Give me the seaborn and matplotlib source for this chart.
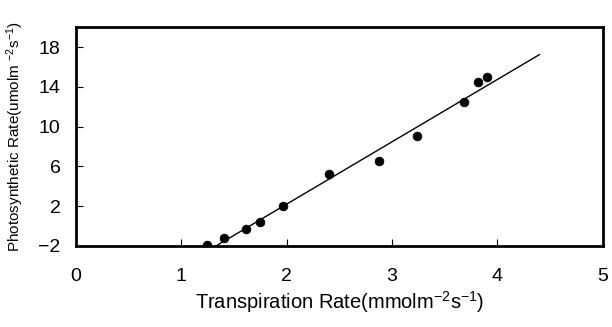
import numpy as np
import pandas as pd
import seaborn as sns
import matplotlib.pyplot as plt

# values
transpiration = [1.24, 1.41, 1.61, 1.75, 1.97, 2.40, 2.88, 3.24, 3.68, 3.82, 3.90]
photosynthesis = [-1.9, -1.22, -0.29, 0.45, 2.06, 5.26, 6.5, 9.09, 12.45, 14.46, 15.0]

# regression line as drawn in the figure
fit_x = [1.2, 4.40]
fit_slope = 6.27
fit_intercept = -10.34

x_ticks = [0, 1, 2, 3, 4, 5]
y_ticks = [-2, 2, 6, 10, 14, 18]

sns.set_theme(style="ticks")
plt.rcParams['font.family'] = ['Liberation Sans', 'DejaVu Sans']
plt.rcParams['mathtext.fontset'] = 'custom'
plt.rcParams['mathtext.rm'] = 'Liberation Sans'
plt.rcParams['mathtext.it'] = 'Liberation Sans'
plt.rcParams['text.color'] = 'black'
plt.rcParams['axes.labelcolor'] = 'black'
plt.rcParams['xtick.color'] = 'black'
plt.rcParams['ytick.color'] = 'black'

df = pd.DataFrame({"x": transpiration, "y": photosynthesis})
line = pd.DataFrame({"x": fit_x, "y": [fit_slope * v + fit_intercept for v in fit_x]})

fig = plt.figure(figsize=(6.12, 3.27), dpi=100)
ax = fig.add_axes([0.124, 0.248, 0.861, 0.669])

sns.lineplot(data=line, x="x", y="y", ax=ax, color="black", linewidth=1.0)
sns.scatterplot(data=df, x="x", y="y", ax=ax, color="black", s=40, edgecolor="black", zorder=3)

ax.set_xlim(0, 5)
ax.set_ylim(-2, 20)
ax.set_xticks(x_ticks)
ax.set_yticks(y_ticks)
ax.tick_params(axis="both", direction="in", length=5, width=0.8, labelsize=14)
ax.tick_params(axis="x", pad=16)
ax.tick_params(axis="y", pad=11)
for s in ax.spines.values():
    s.set_linewidth(2.0)
    s.set_color("black")

ax.set_xlabel("Transpiration Rate(mmolm$^{-2}$s$^{-1}$)", fontsize=14.5, labelpad=3)
ax.set_ylabel("Photosynthetic Rate(umolm $^{-2}$s$^{-1}$)", fontsize=11, labelpad=9)

fig.savefig("out.png", dpi=100)
